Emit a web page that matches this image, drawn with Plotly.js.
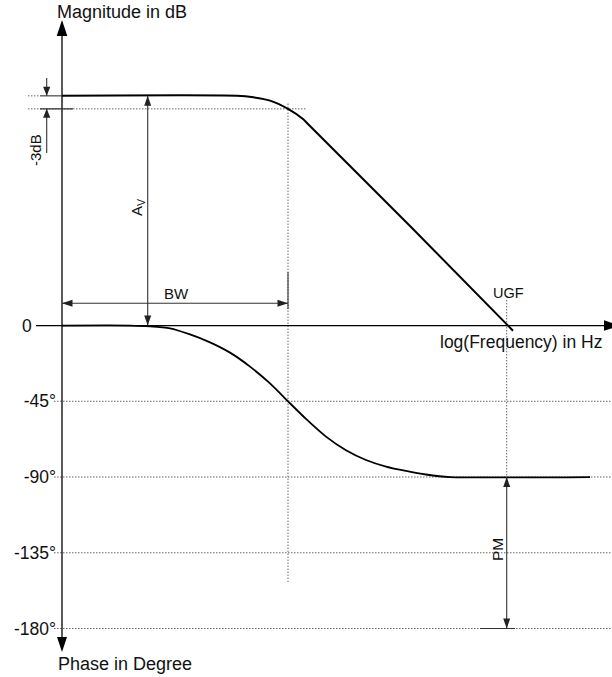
<!DOCTYPE html>
<html><head><meta charset="utf-8">
<script src="https://cdn.plot.ly/plotly-3.0.1.min.js"></script>
<style>html,body{margin:0;padding:0;background:#fff}#chart{width:612px;height:677px}</style>
</head><body><div id="chart"></div>
<script>
// ---- data (x = log(frequency) in decades from the vertical axis) ----
const magFreq  = [0, 1.75, 1.913, 2.08, 2.26, 2.413, 2.447, 3.5, 4.51];
const magDb    = [53, 53, 52.66, 51.9, 50, 47.6, 46.8, 22.5, -1.2];
const phaseFreq = [0, 0.68, 0.88, 1.08, 1.28, 1.48, 1.68, 1.88, 2.08, 2.26, 2.44, 2.64, 2.84, 3.04, 3.24, 3.44, 3.64, 3.88, 5.28];
const phaseDeg  = [0, 0, -0.5, -1.7, -5.3, -10, -16.1, -24.4, -34.4, -45, -55.5, -66, -74.1, -79.9, -83.8, -86.4, -88.5, -90, -90];
const phaseTicks = [0, -45, -90, -135, -180];
const phaseTickText = ['0\u00a0\u00a0\u00a0\u00a0\u00a0', '-45°', '-90°', '-135°', '-180°'];
const gainDb = 53;          // A_V
const minus3Db = 50;        // A_V - 3 dB
const cornerFreq = 2.26;    // end of BW
const ugfFreq = 4.447;      // unity gain frequency
const phaseAtUgf = -90;
const phaseRef = -180;

// ---- helpers ----
const FONT = 'Liberation Sans, Arial, Helvetica, sans-serif';
const DOT = {color: '#666', width: 1, dash: '1.5px,1.5px'};
const DIM = {color: '#333', width: 1.1};
const AX  = {color: '#000', width: 1.3};
function seg(x0, y0, x1, y1, yref, line, layer) {
  return {type: 'line', xref: 'x', yref: yref, x0: x0, y0: y0, x1: x1, y1: y1, line: line, layer: layer || 'above'};
}
function head(x, y, dir, yref, len, hw, color) {
  let p;
  if (dir === 'up') p = `M0,0 L${-hw},${-len} L${hw},${-len} Z`;
  else if (dir === 'down') p = `M0,0 L${-hw},${len} L${hw},${len} Z`;
  else if (dir === 'left') p = `M0,0 L${len},${hw} L${len},${-hw} Z`;
  else p = `M0,0 L${-len},${hw} L${-len},${-hw} Z`;
  return {type: 'path', xref: 'x', yref: yref, xsizemode: 'pixel', ysizemode: 'pixel',
          xanchor: x, yanchor: y, path: p, fillcolor: color || '#000', line: {width: 0}};
}
function label(text, x, y, yref, size, opts) {
  return Object.assign({text: text, x: x, y: y, xref: 'x', yref: yref, showarrow: false,
    font: {family: FONT, size: size, color: '#111'}}, opts || {});
}

const shapes = [];
// grid lines for phase
phaseTicks.slice(1).forEach(t => shapes.push(seg(-0.08, t, 5.5, t, 'y', DOT, 'below')));
// y axis (both directions)
shapes.push(seg(0, 178.5, 0, -191.6, 'y', AX));
shapes.push(head(0, 181.5, 'up', 'y', 16, 5.3));
shapes.push(head(0, -194, 'down', 'y', 15, 5));
// x axis
shapes.push(seg(-0.26, 0, 5.45, 0, 'y', AX));
shapes.push(head(5.58, 0, 'right', 'y', 16, 5.3));
// plateau and -3dB reference lines
shapes.push(seg(-0.34, gainDb, -0.22, gainDb, 'y2', DOT, 'below'));
shapes.push(seg(-0.22, gainDb, 0, gainDb, 'y2', DIM));
shapes.push(seg(-0.34, minus3Db, 2.44, minus3Db, 'y2', DOT, 'below'));
shapes.push(seg(-0.22, minus3Db, 0.11, minus3Db, 'y2', DIM));
// -3dB arrows
shapes.push(seg(-0.153, 57.1, -0.153, gainDb, 'y2', DIM));
shapes.push(head(-0.153, gainDb, 'down', 'y2', 9, 3.6, '#222'));
shapes.push(seg(-0.153, 39.8, -0.153, minus3Db, 'y2', DIM));
shapes.push(head(-0.153, minus3Db, 'up', 'y2', 9, 3.6, '#222'));
// A_V arrow
shapes.push(seg(0.857, gainDb, 0.857, 0, 'y2', DIM));
shapes.push(head(0.857, gainDb, 'up', 'y2', 10, 3.5, '#222'));
shapes.push(head(0.857, 0, 'down', 'y2', 10, 3.5, '#222'));
// BW arrow
shapes.push(seg(0, 5.12, cornerFreq, 5.12, 'y2', DIM));
shapes.push(head(0, 5.12, 'left', 'y2', 10.5, 3.5, '#222'));
shapes.push(head(cornerFreq, 5.12, 'right', 'y2', 10.5, 3.5, '#222'));
// corner frequency vertical
shapes.push(seg(cornerFreq, -59.2, cornerFreq, 51.6, 'y2', DOT, 'below'));
shapes.push(seg(cornerFreq, 31.8, cornerFreq, 9.8, 'y', DIM));
// UGF vertical and phase margin
shapes.push(seg(ugfFreq, 15.2, ugfFreq, phaseAtUgf, 'y', DOT, 'below'));
shapes.push(seg(ugfFreq, phaseAtUgf, ugfFreq, phaseRef, 'y', DIM));
shapes.push(head(ugfFreq, phaseAtUgf, 'up', 'y', 10, 3.5, '#222'));
shapes.push(head(ugfFreq, phaseRef, 'down', 'y', 10, 3.5, '#222'));
shapes.push(seg(4.18, phaseRef, 4.53, phaseRef, 'y', DIM));

const annotations = [
  label('Magnitude in dB', -0.075, 186.5, 'y', 18, {xanchor: 'left', yanchor: 'middle'}),
  label('Phase in Degree', -0.06, -201.1, 'y', 18, {xanchor: 'left', yanchor: 'middle'}),
  label('log(Frequency) in Hz', 5.42, -9.8, 'y', 17.5, {xanchor: 'right', yanchor: 'middle'}),
  label('BW', 1.14, 19.3, 'y', 15),
  label('UGF', 4.46, 19.3, 'y', 14.5),
  label('A<sub>V</sub>', 0.75, 27.1, 'y2', 15, {textangle: -90}),
  label('PM', 4.35, -133.35, 'y', 15.5, {textangle: -90}),
  label('-3dB', -0.27, 40.5, 'y2', 15, {textangle: -90})
];

const traces = [
  {x: magFreq, y: magDb, yaxis: 'y2', mode: 'lines', line: {color: '#000', width: 2, shape: 'spline', smoothing: 0.8}, hoverinfo: 'skip'},
  {x: phaseFreq, y: phaseDeg, yaxis: 'y', mode: 'lines', line: {color: '#000', width: 1.8, shape: 'spline', smoothing: 0.6}, hoverinfo: 'skip'}
];

const layout = {
  width: 612, height: 677, autosize: false,
  margin: {l: 0, r: 0, t: 0, b: 0, pad: 0},
  paper_bgcolor: '#fff', plot_bgcolor: '#fff',
  showlegend: false,
  xaxis: {range: [-0.62, 5.5], visible: false, fixedrange: true},
  yaxis: {range: [-208.8, 193.4], anchor: 'free', position: 0.62 / 6.12, side: 'left',
          tickvals: phaseTicks, ticktext: phaseTickText, ticks: '', showgrid: false,
          zeroline: false, showline: false, ticklabelstandoff: 6,
          tickfont: {family: FONT, size: 17.5, color: '#111'}, fixedrange: true},
  yaxis2: {range: [-81.12, 75.12], overlaying: 'y', visible: false, fixedrange: true},
  shapes: shapes,
  annotations: annotations
};

Plotly.newPlot('chart', traces, layout, {staticPlot: true, displayModeBar: false});
</script>
</body></html>
